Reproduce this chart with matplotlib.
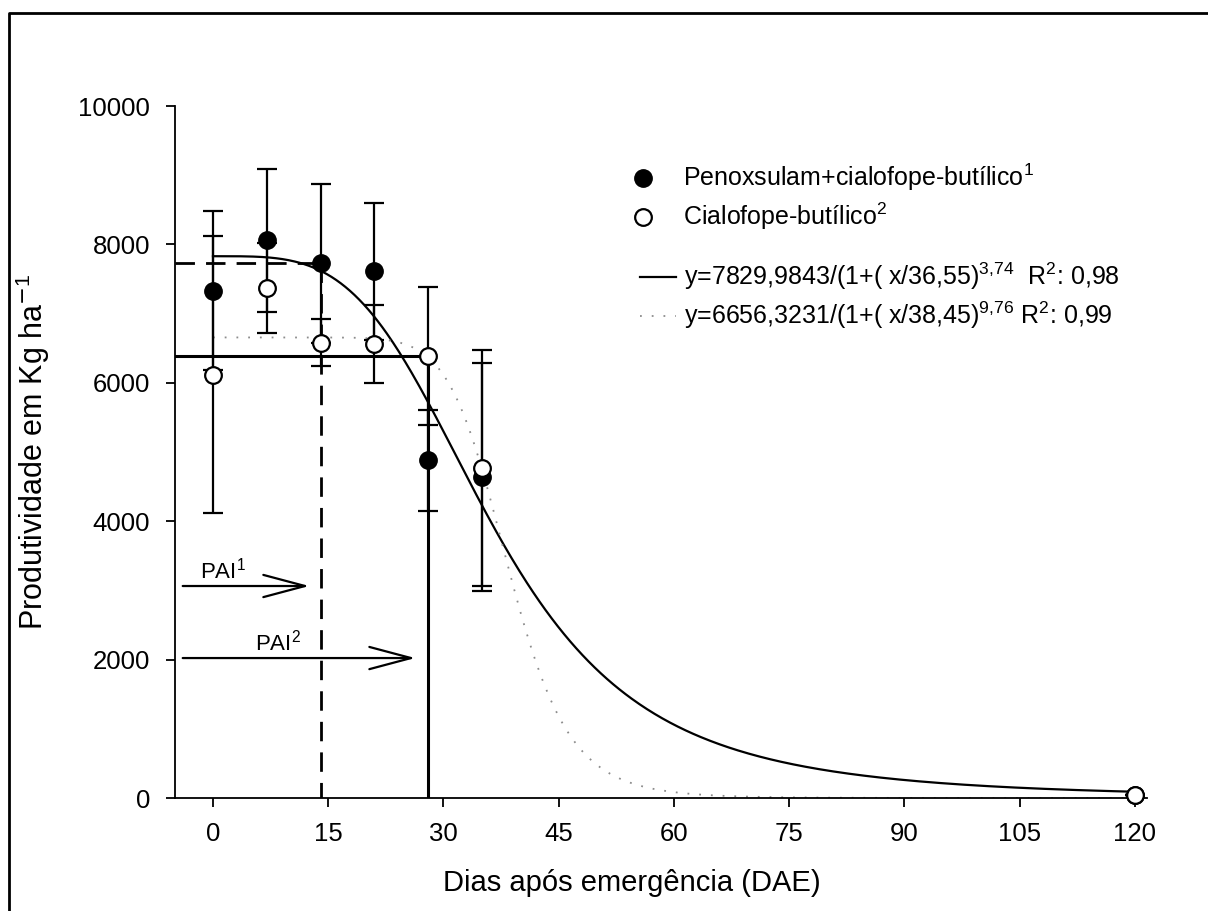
import numpy as np
import matplotlib
matplotlib.use('Agg')
import matplotlib.pyplot as plt
from matplotlib.lines import Line2D
from matplotlib.patches import FancyArrowPatch

plt.rcParams['font.family'] = ['Liberation Sans', 'DejaVu Sans']
plt.rcParams['mathtext.fontset'] = 'custom'
plt.rcParams['mathtext.rm'] = 'Liberation Sans'
plt.rcParams['mathtext.it'] = 'Liberation Sans'
plt.rcParams['mathtext.default'] = 'regular'

# --- data ---
dae = [0, 7, 14, 21, 28, 35, 120]

# Penoxsulam+cialofope-butilico (filled)
peno_y = [7330, 8060, 7730, 7610, 4880, 4640, 45]
peno_err = [1150, 1030, 1150, 990, 730, 1650, 0]

# Cialofope-butilico (open)
cial_y = [6120, 7370, 6580, 6560, 6390, 4770, 45]
cial_err = [2000, 650, 340, 560, 1000, 1700, 0]

# log-logistic fits printed in the legend: a / (1 + (x/x0)^b)
fit_peno = (7829.9843, 36.55, 3.74)
fit_cial = (6656.3231, 38.45, 9.76)

# critical periods (PAI) and the yield levels they are read at
pai1_x, pai1_y = 14, 7730
pai2_x, pai2_y = 28, 6390

fig = plt.figure(figsize=(12.08, 9.11), dpi=100)
ax = fig.add_axes([0.1445, 0.1240, 0.8046, 0.7596])

# reference lines for PAI
dash = (0, (7, 4))
ax.plot([-5, pai1_x], [pai1_y, pai1_y], color='black', lw=2, linestyle=dash)
ax.plot([pai1_x, pai1_x], [pai1_y, 0], color='black', lw=2, linestyle=dash)
ax.plot([-5, pai2_x], [pai2_y, pai2_y], color='black', lw=2.2)
ax.plot([pai2_x, pai2_x], [pai2_y, 0], color='black', lw=2.2)

# fitted curves
xx = np.linspace(0, 120, 600)
a, x0, b = fit_peno
ax.plot(xx, a / (1 + (xx / x0) ** b), color='black', lw=1.6)
a, x0, b = fit_cial
ax.plot(xx, a / (1 + (xx / x0) ** b), color='#8c8c8c', lw=1.3,
        linestyle=(0, (1, 5.5)))

# observed means with error bars
ax.errorbar(dae, peno_y, yerr=peno_err, fmt='o', color='black', ms=12.5,
            mfc='black', mec='black', elinewidth=1.6, capsize=7, capthick=1.6,
            clip_on=False, zorder=4)
ax.errorbar(dae, cial_y, yerr=cial_err, fmt='o', color='black', ms=12,
            mfc='white', mec='black', mew=1.6, elinewidth=1.6, capsize=7,
            capthick=1.6, clip_on=False, zorder=5)

# PAI arrows and labels
pai_labels = ['PAI$^{1}$', 'PAI$^{2}$']
pai_text_pos = [(-1.7, 3179), (5.5, 2139)]
pai_arrows = [(3064, 12.9), (2023, 26.7)]
for (xt, yt), (yarr, xend), lab in zip(pai_text_pos, pai_arrows, pai_labels):
    arr = FancyArrowPatch((-4.3, yarr), (xend, yarr),
                          arrowstyle='->,head_length=30,head_width=8',
                          mutation_scale=1, lw=1.6, color='black')
    ax.add_patch(arr)
    ax.text(xt, yt, lab, fontsize=16, ha='left', va='baseline')

ax.set_xlim(-5, 121.5)
ax.set_ylim(0, 10000)
ax.set_xticks(range(0, 121, 15))
ax.set_yticks(range(0, 10001, 2000))
for s in ['top', 'right']:
    ax.spines[s].set_visible(False)
for s in ['left', 'bottom']:
    ax.spines[s].set_linewidth(1.3)
ax.tick_params(direction='out', length=6.5, width=1.3, labelsize=18.5, pad=11)

ax.set_xlabel('Dias após emergência (DAE)', fontsize=21)
ax.xaxis.set_label_coords(0.4706, -0.103)
ax.set_ylabel('Produtividade em Kg ha$^{\\mathsf{-}1}$', fontsize=22)
ax.yaxis.set_label_coords(-0.126, 0.5)

# legends
h1 = [Line2D([], [], marker='o', ls='none', color='black', ms=12.5),
      Line2D([], [], marker='o', ls='none', mfc='white', mec='black', mew=1.6, ms=12)]
leg1 = ax.legend(h1, ['Penoxsulam+cialofope-butílico$^{1}$', 'Cialofope-butílico$^{2}$'],
                 loc='upper left', bbox_to_anchor=(630 / 1208, 1 - 162 / 911),
                 bbox_transform=fig.transFigure, frameon=False, fontsize=18,
                 handlelength=1.0, handletextpad=1.1, labelspacing=0.3,
                 borderpad=0, borderaxespad=0)
ax.add_artist(leg1)
h2 = [Line2D([], [], color='black', lw=1.6),
      Line2D([], [], color='#8c8c8c', lw=1.3, ls=(0, (1, 5.5)))]
ax.legend(h2, ['y=7829,9843/(1+( x/36,55)$^{3{,}74}$  R$^{2}$: 0,98',
               'y=6656,3231/(1+( x/38,45)$^{9{,}76}$ R$^{2}$: 0,99'],
          loc='upper left', bbox_to_anchor=(640 / 1208, 1 - 261 / 911),
          bbox_transform=fig.transFigure, frameon=False, fontsize=18,
          handlelength=1.45, handletextpad=0.3, labelspacing=0.3,
          borderpad=0, borderaxespad=0)

# outer frame of the original figure
fig.add_artist(Line2D([9 / 1208, 9 / 1208, 1.01], [-0.01, 1 - 13 / 911, 1 - 13 / 911],
                      color='black', lw=2, transform=fig.transFigure))

fig.savefig('out.png', dpi=100)
